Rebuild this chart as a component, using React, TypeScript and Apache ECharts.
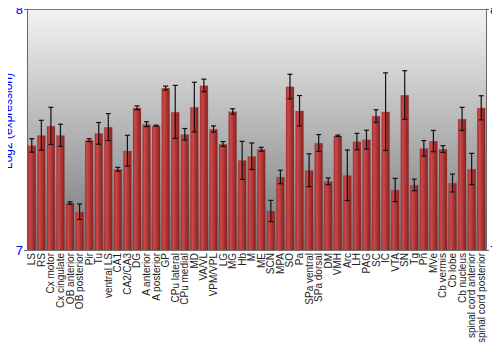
import React, { useEffect, useRef } from "react";
import * as echarts from "echarts";

const categories = [
  "LS", "RS", "Cx motor", "Cx cingulate", "OB anterior", "OB posterior", "Pir", "Tu",
  "ventral LS", "CA1", "CA2/CA3", "DG", "A anterior", "A posterior", "GP", "CPu lateral",
  "CPu medial", "MD", "VA/VL", "VPM/VPL", "LG", "MG", "Hb", "M", "ME", "SCN", "MPA", "SO",
  "Pa", "SPa ventral", "SPa dorsal", "DM", "VMH", "Arc", "LH", "PAG", "SC", "IC", "VTA",
  "SN", "Tg", "Pn", "MVe", "Cb vermis", "Cb lobe", "Cb nucleus", "spinal cord anterior",
  "spinal cord posterior",
];

const values = [
  7.434, 7.476, 7.515, 7.476, 7.195, 7.159, 7.456, 7.484,
  7.51, 7.335, 7.412, 7.59, 7.522, 7.516, 7.672, 7.573,
  7.48, 7.593, 7.683, 7.502, 7.44, 7.575, 7.372, 7.389, 7.418, 7.162, 7.303, 7.678,
  7.578, 7.331, 7.444, 7.285, 7.474, 7.31, 7.45, 7.458, 7.556, 7.574, 7.249,
  7.643, 7.27, 7.422, 7.452, 7.419, 7.278, 7.544, 7.336,
  7.59,
];

const errors = [
  0.028, 0.062, 0.077, 0.046, 0.005, 0.032, 0.006, 0.045,
  0.056, 0.008, 0.064, 0.008, 0.01, 0.002, 0.008, 0.11,
  0.024, 0.103, 0.026, 0.013, 0.01, 0.011, 0.079, 0.055, 0.008, 0.044, 0.028, 0.051,
  0.063, 0.068, 0.035, 0.014, 0.003, 0.105, 0.034, 0.039, 0.026, 0.161, 0.048,
  0.101, 0.024, 0.032, 0.044, 0.014, 0.037, 0.048, 0.065,
  0.05,
];

const yTicks = { min: 7, max: 8, interval: 1 };
const yTitle = "Log2 (expression)";

export default function App() {
  const ref = useRef<HTMLDivElement>(null);
  useEffect(() => {
    if (!ref.current) return;
    const chart = echarts.init(ref.current, null, { renderer: "svg" });
    const errData = values.map((v, i) => [i, v - errors[i], v + errors[i]]);
    const barColor = new echarts.graphic.LinearGradient(0, 0, 1, 0, [
      { offset: 0, color: "#a52c2c" },
      { offset: 0.25, color: "#cd4848" },
      { offset: 1, color: "#862020" },
    ]);
    const yAxisBase = {
      type: "value" as const,
      min: yTicks.min,
      max: yTicks.max,
      interval: yTicks.interval,
      splitLine: { show: false },
      axisLine: { show: true, lineStyle: { color: "#666", width: 1 } },
      axisTick: { show: true, length: 3, lineStyle: { color: "#666" } },
      axisLabel: { color: "#0000ff", fontSize: 13, fontFamily: "Liberation Sans, Arial", margin: 4 },
    };
    chart.setOption({
      animation: false,
      grid: {
        left: 27,
        right: 14,
        top: 9,
        bottom: 100,
        containLabel: false,
        outerBoundsMode: "none",
        show: true,
        borderWidth: 0,
        backgroundColor: new echarts.graphic.LinearGradient(0, 0, 0, 1, [
          { offset: 0, color: "#f3f3f3" },
          { offset: 1, color: "#767676" },
        ]),
      },
      xAxis: [
        {
          type: "category",
          data: categories,
          axisLine: { show: true, lineStyle: { color: "#777" } },
          axisTick: { show: false },
          axisLabel: {
            rotate: 90,
            interval: 0,
            fontSize: 10,
            color: "#222",
            fontFamily: "Liberation Sans, Arial",
            margin: 3,
          },
        },
        {
          type: "category",
          position: "top",
          data: categories,
          axisLine: { show: true, lineStyle: { color: "#777" } },
          axisTick: { show: false },
          axisLabel: { show: false },
        },
      ],
      yAxis: [
        {
          ...yAxisBase,
          position: "left",
          name: yTitle,
          nameLocation: "middle",
          nameGap: 13,
          nameMoveOverlap: false,
          nameTextStyle: {
            color: "#0000ff",
            fontSize: 12,
            fontFamily: "Liberation Sans, Arial",
            padding: [0, 0, 0, 17],
          },
        },
        { ...yAxisBase, position: "right" },
      ],
      series: [
        {
          type: "bar",
          data: values,
          barCategoryGap: "12%",
          itemStyle: { color: barColor, borderColor: "rgba(120,60,60,0.35)", borderWidth: 0.5 },
        },
        {
          type: "custom",
          data: errData,
          z: 10,
          renderItem: (params: any, api: any) => {
            const x = api.value(0);
            const lo = api.coord([x, api.value(1)]);
            const hi = api.coord([x, api.value(2)]);
            const w = 2.5;
            const style = { stroke: "#111", lineWidth: 1.2, fill: "none" };
            return {
              type: "group",
              children: [
                { type: "line", shape: { x1: hi[0], y1: hi[1], x2: lo[0], y2: lo[1] }, style },
                { type: "line", shape: { x1: hi[0] - w, y1: hi[1], x2: hi[0] + w, y2: hi[1] }, style },
                { type: "line", shape: { x1: lo[0] - w, y1: lo[1], x2: lo[0] + w, y2: lo[1] }, style },
              ],
            };
          },
        },
      ],
    });
    return () => chart.dispose();
  }, []);
  return <div ref={ref} style={{ width: 500, height: 350, margin: -8 }} />;
}
